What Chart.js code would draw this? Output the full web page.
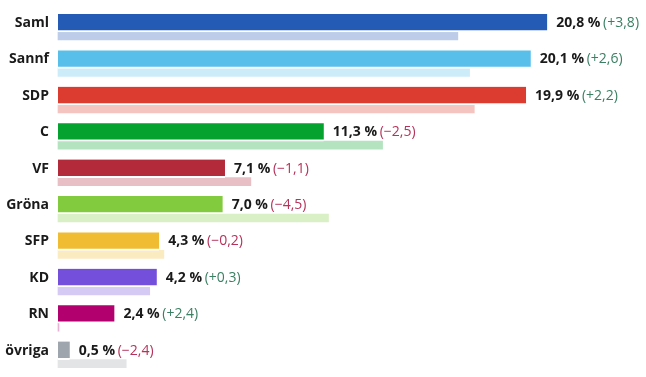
<!DOCTYPE html>
<html lang="sv">
<head>
    <meta charset="UTF-8">
    <title>Partistöd</title>
    <script src="https://cdn.jsdelivr.net/npm/chart.js"></script>
    <style>
        html, body { margin: 0; padding: 0; background: #fff; }
        #wrap { width: 646px; height: 377px; }
    </style>
</head>
<body>
    <div id="wrap"><canvas id="myChart" width="646" height="377"></canvas></div>
    <script>
    const parties = ['Saml', 'Sannf', 'SDP', 'C', 'VF', 'Gröna', 'SFP', 'KD', 'RN', 'övriga'];
    const current = [20.8, 20.1, 19.9, 11.3, 7.1, 7.0, 4.3, 4.2, 2.4, 0.5];
    const previous = [17.0, 17.5, 17.7, 13.8, 8.2, 11.5, 4.5, 3.9, 0.0, 2.9];
    const change = [3.8, 2.6, 2.2, -2.5, -1.1, -4.5, -0.2, 0.3, 2.4, -2.4];
    const colors = ['#245bb5', '#58bfea', '#dc3b2f', '#06a22f', '#b32a3b', '#82cb3e', '#f0bd32', '#744fdb', '#b3006f', '#9ea5ad'];

    function lighten(hex, a) {
        const n = parseInt(hex.slice(1), 16);
        return `rgba(${(n >> 16) & 255}, ${(n >> 8) & 255}, ${n & 255}, ${a})`;
    }

    function fmt(v) {
        return v.toFixed(1).replace('.', ',');
    }

    const FONT = '"Open Sans", sans-serif';

    // etiketter till höger om staplarna: "20,8 %" + "(+3,8)"
    const valueLabels = {
        id: 'valueLabels',
        afterDatasetsDraw(chart) {
            const ctx = chart.ctx;
            const meta = chart.getDatasetMeta(0);
            ctx.save();
            ctx.textBaseline = 'middle';
            ctx.textAlign = 'left';
            meta.data.forEach((bar, i) => {
                const x = bar.x + 9;
                const y = bar.y;
                const main = fmt(current[i]) + ' %';
                ctx.font = `bold 14px ${FONT}`;
                ctx.fillStyle = '#1a1a1a';
                ctx.fillText(main, x, y);
                const w = ctx.measureText(main + ' ').width;
                const c = change[i];
                const txt = '(' + (c >= 0 ? '+' : '\u2212') + fmt(Math.abs(c)) + ')';
                ctx.font = `14px ${FONT}`;
                ctx.fillStyle = c >= 0 ? '#3b8063' : '#b5325a';
                ctx.fillText(txt, x + w - 1, y);
            });
            ctx.restore();
        }
    };

    const ctx = document.getElementById('myChart').getContext('2d');
    new Chart(ctx, {
        type: 'bar',
        data: {
            labels: parties,
            datasets: [
                {
                    label: 'Nu',
                    data: current,
                    backgroundColor: colors,
                    borderColor: '#ffffff',
                    borderWidth: { top: 0, left: 0, right: 0, bottom: 2 },
                    borderSkipped: false,
                    barThickness: 18,
                    clip: false
                },
                {
                    label: 'Förra',
                    data: previous,
                    backgroundColor: colors.map(c => lighten(c, 0.3)),
                    barThickness: 8,
                    minBarLength: 1,
                    clip: false
                }
            ]
        },
        options: {
            indexAxis: 'y',
            responsive: false,
            animation: false,
            layout: { padding: { top: 32, bottom: 12, left: 0, right: 0 } },
            plugins: {
                legend: { display: false },
                tooltip: { enabled: false }
            },
            scales: {
                x: {
                    display: false,
                    min: 0,
                    max: 25
                },
                y: {
                    offset: false,
                    grid: { display: false, drawTicks: false },
                    border: { display: false },
                    afterFit(scale) { scale.width = 58; },
                    ticks: {
                        padding: 9,
                        labelOffset: -9,
                        color: '#1a1a1a',
                        font: { family: FONT, size: 14, weight: 'bold' }
                    }
                }
            }
        },
        plugins: [valueLabels]
    });
    </script>
</body>
</html>
